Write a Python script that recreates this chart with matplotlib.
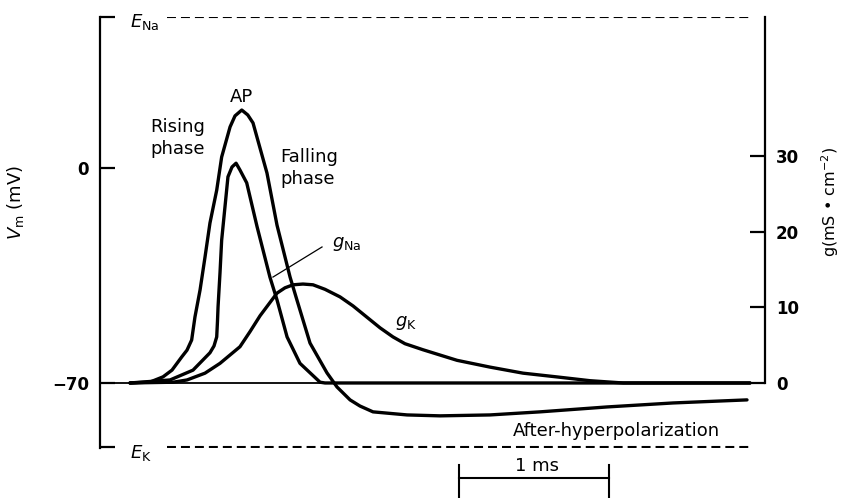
import matplotlib
matplotlib.use("Agg")
import matplotlib.pyplot as plt

plt.rcParams["font.family"] = ["DejaVu Sans"]
plt.rcParams["mathtext.fontset"] = "dejavusans"

# time in ms, membrane potential in mV
ap_t = [0.200, 0.333, 0.420, 0.480, 0.545, 0.580, 0.611, 0.633, 0.667, 0.700, 0.733, 0.778,
        0.811, 0.867, 0.900, 0.945, 0.985, 1.020, 1.113, 1.180, 1.267, 1.313, 1.400,
        1.513, 1.580, 1.667, 1.733, 1.820, 2.047, 2.267, 2.600, 2.933, 3.380, 3.820, 4.313]
ap_v = [-70.0, -69.7, -68.0, -65.8, -61.5, -59.3, -56.0, -48.5, -39.7, -29.0, -17.9, -7.2,
        3.6, 13.4, 17.0, 18.9, 17.3, 14.7, -1.6, -18.6, -35.5, -43.0, -57.0,
        -66.7, -71.3, -75.5, -77.5, -79.4, -80.4, -80.7, -80.4, -79.4, -77.8, -76.5, -75.5]

# conductances in mS/cm^2
gna_t = [0.200, 0.467, 0.620, 0.733, 0.760, 0.778, 0.783, 0.787, 0.800, 0.811, 0.833, 0.853,
         0.880, 0.907, 0.933, 0.978, 1.047, 1.133, 1.180, 1.247, 1.333, 1.467, 1.500, 4.333]
gna_g = [0.0, 0.4, 1.7, 4.0, 4.9, 6.1, 8.1, 10.1, 14.6, 18.9, 23.3, 27.3,
         28.6, 29.1, 28.2, 26.5, 20.7, 14.0, 11.0, 6.1, 2.6, 0.1, 0.0, 0.0]

gk_t = [0.200, 0.487, 0.580, 0.700, 0.800, 0.933, 1.000, 1.067, 1.180, 1.233, 1.287, 1.353,
        1.420, 1.500, 1.600, 1.687, 1.780, 1.867, 1.953, 2.033, 2.153, 2.380, 2.600, 2.820,
        3.047, 3.267, 3.487, 4.333]
gk_g = [0.0, 0.1, 0.4, 1.3, 2.6, 4.8, 6.8, 8.9, 11.9, 12.6, 13.0, 13.1,
        13.0, 12.4, 11.4, 10.2, 8.7, 7.3, 6.1, 5.2, 4.4, 3.0, 2.1, 1.3,
        0.8, 0.3, 0.0, 0.0]

V_REST = -70
E_NA = 49.2
E_K = -91.0
v_ticks = [E_K, -70, 0, E_NA]
v_labels = ["", "\u221270", "0", ""]
g_ticks = [0, 10, 20, 30]

fig = plt.figure(figsize=(8.42, 4.98), dpi=100)
ax = fig.add_axes([100 / 842, 1 - 448 / 498, 665 / 842, 431 / 498])
ax2 = ax.twinx()

ax.set_xlim(0, 4.433)
ax.set_ylim(-91.17, 49.18)
ax2.set_ylim(-8.61, 48.46)

for s in ["top", "bottom", "right"]:
    ax.spines[s].set_visible(False)
for s in ["top", "bottom", "left"]:
    ax2.spines[s].set_visible(False)
ax.spines["left"].set_linewidth(1.6)
ax2.spines["right"].set_linewidth(1.6)
ax2.spines["right"].set_bounds(0, 48.46)

ax.set_xticks([])
ax.set_yticks(v_ticks)
ax.set_yticklabels(v_labels, fontweight="bold", fontsize=12)
ax.tick_params(axis="y", direction="in", length=11, width=1.6, pad=8)
ax2.set_yticks(g_ticks)
ax2.set_yticklabels([str(v) for v in g_ticks], fontweight="bold", fontsize=12)
ax2.tick_params(axis="y", direction="in", length=11, width=1.6, pad=8)

# resting baseline and reversal potentials
ax.plot([0, 4.333], [V_REST, V_REST], color="black", lw=1.3)
ax.plot([0.447, 4.333], [E_NA, E_NA], color="black", lw=1.5, ls=(0, (4.3, 2.4)))
ax.plot([0.447, 4.333], [E_K, E_K], color="black", lw=1.5, ls=(0, (4.3, 2.4)))

kw = dict(color="black", lw=2.4, solid_joinstyle="round", solid_capstyle="round")
ax.plot(ap_t, ap_v, **kw)
ax2.plot(gna_t, gna_g, **kw)
ax2.plot(gk_t, gk_g, **kw)

fs = 13
ax.text(0.94, 23.1, "AP", ha="center", va="center", fontsize=fs)
ax.text(0.333, 11.7, "Rising", ha="left", va="baseline", fontsize=fs)
ax.text(0.333, 4.6, "phase", ha="left", va="baseline", fontsize=fs)
ax.text(1.20, 2.0, "Falling", ha="left", va="baseline", fontsize=fs)
ax.text(1.20, -5.2, "phase", ha="left", va="baseline", fontsize=fs)
ax.text(2.753, -87.3, "After-hyperpolarization", ha="left", va="baseline", fontsize=fs)
ax.text(1.547, -25.7, r"$g_{\rm Na}$", ha="left", va="baseline", fontsize=fs)
ax.text(1.967, -51.4, r"$g_{\rm K}$", ha="left", va="baseline", fontsize=fs)
ax.plot([1.153, 1.48], [-35.5, -25.7], color="black", lw=0.9)
ax.text(0.2, 46.0, r"$E_{\rm Na}$", ha="left", va="baseline", fontsize=fs)
ax.text(0.2, -94.3, r"$E_{\rm K}$", ha="left", va="baseline", fontsize=fs)

# 1 ms scale bar below the axes
bar_start = 2.39
bar_len = 1.0
ax.plot([bar_start, bar_start + bar_len], [-100.9, -100.9], color="black", lw=1.5, clip_on=False)
ax.plot([bar_start, bar_start], [-96.7, -107.4], color="black", lw=1.5, clip_on=False)
ax.plot([bar_start + bar_len, bar_start + bar_len], [-96.7, -107.4], color="black", lw=1.5, clip_on=False)
ax.text(bar_start + 0.52, -98.7, "1 ms", ha="center", va="baseline", fontsize=fs, clip_on=False)

fig.text(16 / 842, 1 - 202 / 498, r"$V_{\rm m}$ (mV)", rotation=90, ha="center", va="center", fontsize=fs)
fig.text(830 / 842, 1 - 202 / 498, "g(mS \u2022 cm$^{\u22122}$)", rotation=90, ha="center", va="center", fontsize=11.5)

fig.savefig("out.png", dpi=100)
